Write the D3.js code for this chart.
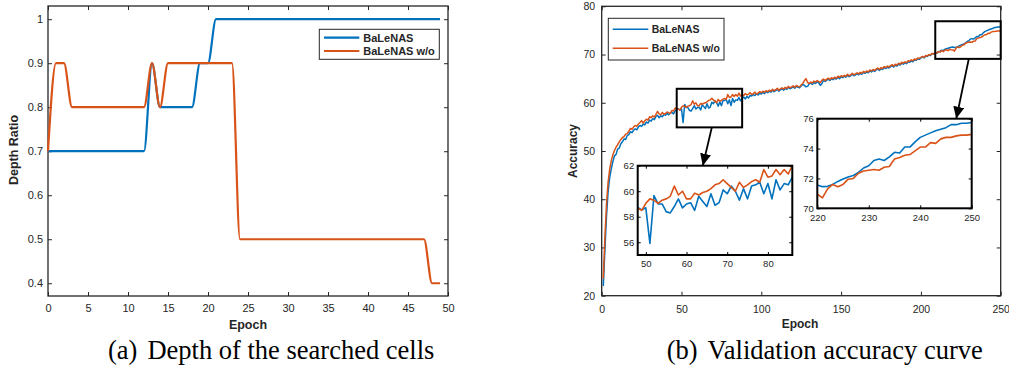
<!DOCTYPE html>
<html>
<head>
<meta charset="UTF-8">
<title>BaLeNAS</title>
<script src="https://d3js.org/d3.v7.min.js"></script>
<style>
  body { margin: 0; background: #fff; }
  svg { display: block; }
  text { font-family: "Liberation Sans", Arial, Helvetica, sans-serif; fill: #262626; }
  .cap { font-family: "Liberation Serif", "Times New Roman", serif; fill: #000; }
</style>
</head>
<body>
<svg id="fig" width="1009" height="367"></svg>
<script>
var seriesNames = ["BaLeNAS", "BaLeNAS w/o"];
var seriesColors = ["#0072BD", "#D95319"];

// (a) depth ratio, epochs 0..49
var depthBlue = [0.7,0.7,0.7,0.7,0.7,0.7,0.7,0.7,0.7,0.7,0.7,0.7,0.7,0.9,0.8,0.8,0.8,0.8,0.8,0.9,
  0.9,1,1,1,1,1,1,1,1,1,1,1,1,1,1,1,1,1,1,1,1,1,1,1,1,1,1,1,1,1];
var depthOrange = [0.7,0.9,0.9,0.8,0.8,0.8,0.8,0.8,0.8,0.8,0.8,0.8,0.8,0.9,0.8,0.9,0.9,0.9,0.9,0.9,
  0.9,0.9,0.9,0.9,0.5,0.5,0.5,0.5,0.5,0.5,0.5,0.5,0.5,0.5,0.5,0.5,0.5,0.5,0.5,0.5,0.5,0.5,0.5,0.5,0.5,0.5,0.5,0.5,0.4,0.4];
var depthXTicks = [0,5,10,15,20,25,30,35,40,45,50];
var depthYTicks = [0.4,0.5,0.6,0.7,0.8,0.9,1];

// (b) validation accuracy, epochs 1..250
var accBlue = [
  22.0,29.5,36.5,41.5,44.5,46.3,47.8,49.0,49.3,50.4,
  50.6,51.5,51.9,52.5,52.4,53.2,53.4,54.0,53.8,54.3,
  54.6,54.4,55.0,55.3,55.1,55.6,55.4,56.0,55.8,56.4,
  56.2,56.7,56.5,57.2,57.4,56.9,57.3,57.1,57.6,57.4,
  57.8,57.5,57.9,58.0,57.7,58.3,58.6,
  58.72,58.54,58.7,55.9,59.66,59.0,59.0,58.4,58.3,58.8,59.4,58.7,59.0,59.1,58.5,59.6,59.2,58.8,59.8,
  58.9,59.1,60.1,59.8,60.4,60.0,59.3,60.2,59.4,60.4,60.5,60.7,59.8,60.6,59.4,60.9,60.1,60.6,60.5,61.1,
  60.4,60.9,61.2,60.8,61.3,61.0,61.5,61.4,61.7,61.5,61.9,61.6,62.0,61.8,
  62.2,61.9,62.3,62.1,62.4,62.2,62.6,62.3,62.5,62.8,62.4,62.7,62.9,62.6,63.0,62.8,63.2,62.9,63.1,63.3,
  63.0,63.4,63.2,63.1,63.5,63.8,63.6,63.3,63.4,63.9,64.1,63.8,64.2,64.0,64.4,64.1,63.6,64.0,64.7,64.4,
  64.7,64.9,64.6,65.0,64.8,65.1,64.9,65.3,65.0,65.4,65.2,65.5,65.3,65.7,65.4,65.6,65.9,65.6,65.8,66.0,
  65.8,66.1,65.9,66.3,66.1,66.4,66.2,66.6,66.4,66.7,66.5,66.8,67.0,66.7,67.1,66.9,67.3,67.1,67.4,67.2,
  67.5,67.7,67.4,67.8,67.6,68.0,67.8,68.2,68.0,68.3,68.1,68.5,68.4,68.7,68.5,68.9,68.8,69.1,69.0,69.3,
  69.5,69.3,69.7,69.6,69.9,69.8,70.2,70.1,70.4,70.3,70.6,70.7,70.9,70.8,71.1,71.2,71.3,71.4,71.5,
  71.56,71.45,71.47,71.6,71.8,71.96,72.1,72.2,72.4,72.7,72.85,73.2,73.3,73.2,73.45,73.75,73.7,74.1,74.1,74.45,
  74.75,74.9,75.05,75.2,75.3,75.4,75.6,75.6,75.7,75.7,75.75];
var accOrange = [
  23.5,32.0,39.0,43.5,46.2,48.0,49.2,50.1,50.8,51.3,
  51.9,52.4,52.8,53.0,53.5,53.6,54.1,54.7,54.5,55.0,
  55.3,55.1,55.6,55.9,56.3,55.8,56.2,56.6,56.4,57.1,
  56.9,57.3,57.0,57.6,58.2,57.7,57.5,58.0,57.6,57.8,
  58.1,57.9,57.8,58.4,58.3,58.9,58.8,
  58.67,58.5,59.05,59.4,59.3,59.05,59.3,59.4,59.6,60.4,59.7,60.0,59.4,59.4,59.85,59.7,59.9,60.0,60.2,
  60.5,60.6,60.9,60.6,60.3,60.0,60.7,60.3,60.5,60.75,60.9,60.7,61.7,61.1,61.2,61.7,61.3,61.7,61.35,62.0,
  61.4,61.7,61.5,61.9,61.6,61.8,62.1,61.7,61.9,62.2,61.8,62.0,62.3,62.1,
  62.4,62.2,62.5,62.3,62.6,62.4,62.8,62.5,62.7,63.0,62.6,62.9,63.1,62.8,63.2,63.0,63.4,63.1,63.3,63.5,
  63.2,63.6,63.4,63.3,63.7,64.0,64.6,65.0,64.2,64.0,64.3,64.1,64.5,64.3,64.6,64.4,64.2,64.7,64.9,64.6,
  64.9,65.1,64.8,65.2,65.0,65.3,65.1,65.5,65.3,65.6,65.4,65.7,65.5,65.9,65.6,65.8,66.1,65.8,66.0,66.2,
  66.0,66.3,66.1,66.5,66.3,66.6,66.4,66.8,66.6,66.9,66.7,67.0,67.2,66.9,67.3,67.1,67.5,67.3,67.6,67.4,
  67.7,67.9,67.6,68.0,67.8,68.2,68.0,68.4,68.2,68.5,68.3,68.7,68.6,68.9,68.7,69.1,68.9,69.3,69.2,69.4,
  69.6,69.4,69.8,69.7,70.0,69.9,70.2,70.1,70.4,70.3,70.6,70.5,70.8,70.6,70.9,71.0,70.8,71.1,71.0,
  70.95,70.7,71.3,71.6,71.45,71.6,71.95,72.0,72.35,72.5,72.55,72.6,72.55,72.75,72.8,73.3,73.4,73.55,73.6,73.85,
  74.1,74.1,74.4,74.35,74.65,74.75,74.75,74.85,74.9,74.9,74.95];
var accXTicks = [0,50,100,150,200,250];
var accYTicks = [20,30,40,50,60,70,80];

// zoomed regions: [x0, x1, y0, y1] in data units
var zoomBox1 = [47, 88, 54.9, 62.9];
var zoomBox2 = [209, 250, 69.1, 76.9];
var inset1XTicks = [50,60,70,80], inset1YTicks = [56,58,60,62];
var inset2XTicks = [220,230,240,250], inset2YTicks = [70,72,74,76];
// arrow anchors (epoch at the box bottom, epoch at the inset top)
var arrow1 = [69, 64];
var arrow2 = [230, 247];

var svg = d3.select("#fig");
var defs = svg.append("defs");
defs.append("marker").attr("id", "head")
  .attr("markerUnits", "userSpaceOnUse")
  .attr("viewBox", "0 0 12 11").attr("markerWidth", 12).attr("markerHeight", 11)
  .attr("refX", 12).attr("refY", 5.5).attr("orient", "auto")
  .append("path").attr("d", "M0,0L12,5.5L0,11Z").attr("fill", "#000");

function drawAxes(g, x, y, xt, yt, o) {
  var x0 = x.range()[0], x1 = x.range()[1], y0 = y.range()[1], y1 = y.range()[0];
  var fmt = function(d) { return String(d); };
  g.append("g").attr("transform", "translate(0," + y1 + ")")
    .call(d3.axisBottom(x).tickValues(xt).tickSize(-o.tick).tickSizeOuter(0).tickPadding(o.xpad).tickFormat(fmt));
  g.append("g").attr("transform", "translate(0," + y0 + ")")
    .call(d3.axisTop(x).tickValues(xt).tickSize(-o.tick).tickSizeOuter(0).tickFormat(""));
  g.append("g").attr("transform", "translate(" + x0 + ",0)")
    .call(d3.axisLeft(y).tickValues(yt).tickSize(-o.tick).tickSizeOuter(0).tickPadding(o.ypad).tickFormat(fmt));
  g.append("g").attr("transform", "translate(" + x1 + ",0)")
    .call(d3.axisRight(y).tickValues(yt).tickSize(-o.tick).tickSizeOuter(0).tickFormat(""));
  g.selectAll(".tick text").attr("font-size", o.font).attr("font-family", null).attr("fill", "#262626");
  g.selectAll(".tick line").attr("stroke", o.color).attr("stroke-width", 1);
  g.selectAll(".domain").remove();
  g.append("rect").attr("x", x0).attr("y", y0).attr("width", x1 - x0).attr("height", y1 - y0)
    .attr("fill", "none").attr("stroke", o.color).attr("stroke-width", o.frame);
}

function legend(g, x, y, w, h, lx0, lx1, tx, rows, font, lw) {
  g.append("rect").attr("x", x).attr("y", y).attr("width", w).attr("height", h)
    .attr("fill", "#fff").attr("stroke", "#262626").attr("stroke-width", 1);
  seriesNames.forEach(function(name, i) {
    g.append("line").attr("x1", lx0).attr("x2", lx1).attr("y1", rows[i]).attr("y2", rows[i])
      .attr("stroke", seriesColors[i]).attr("stroke-width", lw);
    g.append("text").attr("x", tx).attr("y", rows[i]).attr("dy", "0.35em")
      .attr("font-size", font).attr("font-weight", "bold").attr("fill", "#000").text(name);
  });
}

// ---------- (a) ----------
var ga = svg.append("g");
var xa = d3.scaleLinear().domain([0, 50]).range([48, 448]);
var ya = d3.scaleLinear().domain([0.371, 1.03]).range([296, 6]);
drawAxes(ga, xa, ya, depthXTicks, depthYTicks, {tick: 4, xpad: 8, ypad: 5, font: "11px", color: "#262626", frame: 1.3});
var lineA = d3.line().x(function(d, i) { return xa(i); }).y(function(d) { return ya(d); }).curve(d3.curveMonotoneX);
[depthBlue, depthOrange].forEach(function(s, i) {
  ga.append("path").datum(s).attr("d", lineA).attr("fill", "none")
    .attr("stroke", seriesColors[i]).attr("stroke-width", 2.2).attr("stroke-linejoin", "round");
});
legend(ga, 319.3, 29.3, 120, 30, 324, 359.3, 363.3, [37.7, 51], "11px", 2.2);
ga.append("text").attr("x", 248).attr("y", 329).attr("text-anchor", "middle")
  .attr("font-size", "12.5px").attr("font-weight", "bold").text("Epoch");
ga.append("text").attr("transform", "translate(18,150) rotate(-90)").attr("text-anchor", "middle")
  .attr("font-size", "12.5px").attr("font-weight", "bold").text("Depth Ratio");
var capA = ga.append("text").attr("class", "cap").attr("x", 108).attr("y", 359).attr("font-size", "26.5px");
capA.append("tspan").text("(a)");
capA.append("tspan").attr("dx", 10).text("Depth of the searched cells");

// ---------- (b) ----------
var gb = svg.append("g");
var xb = d3.scaleLinear().domain([0, 250]).range([601.7, 1000.7]);
var yb = d3.scaleLinear().domain([20, 80]).range([295.7, 6.3]);
drawAxes(gb, xb, yb, accXTicks, accYTicks, {tick: 4, xpad: 9.5, ypad: 6.5, font: "10.5px", color: "#262626", frame: 1.3});
function lineFor(x, y) {
  return d3.line().x(function(d, i) { return x(i + 1); }).y(function(d) { return y(d); });
}
[accBlue, accOrange].forEach(function(s, i) {
  gb.append("path").datum(s).attr("d", lineFor(xb, yb)).attr("fill", "none")
    .attr("stroke", seriesColors[i]).attr("stroke-width", 1.5).attr("stroke-linejoin", "round");
});
legend(gb, 608.3, 18.3, 115.7, 41.7, 612.7, 648.3, 651.7, [29.3, 48.3], "10.5px", 1.5);
gb.append("text").attr("x", 800).attr("y", 328).attr("text-anchor", "middle")
  .attr("font-size", "12px").attr("font-weight", "bold").text("Epoch");
gb.append("text").attr("transform", "translate(577,151) rotate(-90)").attr("text-anchor", "middle")
  .attr("font-size", "12px").attr("font-weight", "bold").text("Accuracy");
var capB = gb.append("text").attr("class", "cap").attr("x", 666.7).attr("y", 359).attr("font-size", "26.5px");
capB.append("tspan").text("(b)");
capB.append("tspan").attr("dx", 10).text("Validation accuracy curve");

// zoom rectangles on the main axes
[zoomBox1, zoomBox2].forEach(function(b) {
  gb.append("rect").attr("x", xb(b[0])).attr("y", yb(b[3]))
    .attr("width", xb(b[1]) - xb(b[0])).attr("height", yb(b[2]) - yb(b[3]))
    .attr("fill", "none").attr("stroke", "#000").attr("stroke-width", 2);
});

// insets
function inset(id, xd, yd, left, right, top, bottom, xt, yt) {
  var g = svg.append("g");
  var x = d3.scaleLinear().domain(xd).range([left, right]);
  var y = d3.scaleLinear().domain(yd).range([bottom, top]);
  g.append("rect").attr("x", left).attr("y", top).attr("width", right - left).attr("height", bottom - top).attr("fill", "#fff");
  defs.append("clipPath").attr("id", id).append("rect")
    .attr("x", left).attr("y", top).attr("width", right - left).attr("height", bottom - top);
  var lines = g.append("g").attr("clip-path", "url(#" + id + ")");
  [accBlue, accOrange].forEach(function(s, i) {
    lines.append("path").datum(s).attr("d", lineFor(x, y)).attr("fill", "none")
      .attr("stroke", seriesColors[i]).attr("stroke-width", 1.6).attr("stroke-linejoin", "round");
  });
  drawAxes(g, x, y, xt, yt, {tick: 3, xpad: 5.5, ypad: 3.5, font: "9.5px", color: "#000", frame: 2});
  return {x: x, y: y, top: top};
}
var in1 = inset("clip1", [48, 86], [55, 62], 637.7, 792.3, 165.7, 255, inset1XTicks, inset1YTicks);
var in2 = inset("clip2", [220, 250], [70, 76], 817.3, 971.7, 118.7, 208.3, inset2XTicks, inset2YTicks);

// arrows from zoom boxes to insets
[[arrow1, zoomBox1, in1], [arrow2, zoomBox2, in2]].forEach(function(a) {
  svg.append("line")
    .attr("x1", xb(a[0][0])).attr("y1", yb(a[1][2]))
    .attr("x2", a[2].x(a[0][1])).attr("y2", a[2].top)
    .attr("stroke", "#000").attr("stroke-width", 1.8).attr("marker-end", "url(#head)");
});
</script>
</body>
</html>
